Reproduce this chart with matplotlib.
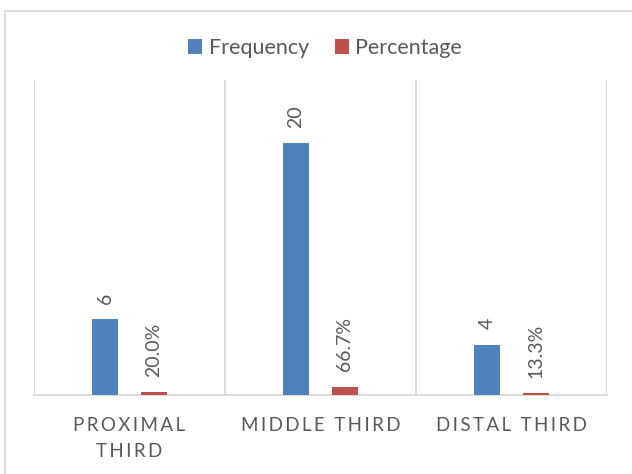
"""
Fracture site distribution: frequency and percentage per third
"""

import matplotlib.pyplot as plt
import numpy as np
from matplotlib.patches import Rectangle

plt.rcParams.update({
    'font.family': ['Lato', 'DejaVu Sans'],
    'figure.dpi': 100,
})

categories = ['PROXIMAL\nTHIRD', 'MIDDLE THIRD', 'DISTAL THIRD']
frequency = [6, 20, 4]
percentage = [0.200, 0.667, 0.133]

colors = {'freq': '#4F81BD', 'pct': '#C0504D'}
text_gray = '#595959'
grid_gray = '#D9D9D9'


def spaced(label):
    # Excel-style letter spacing for the category labels
    return '\n'.join('\u2009'.join(line) for line in label.split('\n'))


fig = plt.figure(figsize=(6.32, 4.74))
ax = fig.add_axes([34 / 632, 1 - 395 / 474, (607 - 34) / 632, (395 - 80) / 474])

x = np.arange(len(categories))
width = 0.136
offset = 0.128

bars_f = ax.bar(x - offset, frequency, width, color=colors['freq'], label='Frequency', zorder=3)
bars_p = ax.bar(x + offset, percentage, width, color=colors['pct'], label='Percentage', zorder=3)

for bar, val in zip(bars_f, frequency):
    ax.annotate(f'{val}', (bar.get_x() + bar.get_width() / 2, bar.get_height()),
                xytext=(0, 11), textcoords='offset points', rotation=90,
                ha='center', va='bottom', fontsize=14, color=text_gray)
for bar, val in zip(bars_p, percentage):
    ax.annotate(f'{val * 100:.1f}%', (bar.get_x() + bar.get_width() / 2, bar.get_height()),
                xytext=(0, 11), textcoords='offset points', rotation=90,
                ha='center', va='bottom', fontsize=14, color=text_gray)

ax.set_xlim(-0.5, 2.5)
ax.set_ylim(0, 25)
ax.set_yticks([])
ax.set_xticks(x)
ax.set_xticklabels([spaced(c) for c in categories], fontsize=13.5, color=text_gray,
                   linespacing=1.65)
ax.tick_params(axis='x', length=0, pad=16)

# category separators
for sep in np.arange(-0.5, 3.0, 1.0):
    ax.axvline(sep, color=grid_gray, linewidth=1.3, zorder=1)

for side in ['top', 'left', 'right']:
    ax.spines[side].set_visible(False)
ax.spines['bottom'].set_color(grid_gray)
ax.spines['bottom'].set_linewidth(1.3)

fig.legend(handles=[bars_f, bars_p], loc='center', bbox_to_anchor=(325 / 632, 1 - 48 / 474),
           ncol=2, frameon=False, fontsize=15.5, labelcolor=text_gray,
           handlelength=0.65, handleheight=0.65, handletextpad=0.3, columnspacing=1.2)

# chart area outline
fig.patches.append(Rectangle((5 / 632, -0.1), 1.2, 1.1 - 11 / 474, transform=fig.transFigure,
                             fill=False, edgecolor=grid_gray, linewidth=1.3))

fig.savefig('out.png', dpi=100)
